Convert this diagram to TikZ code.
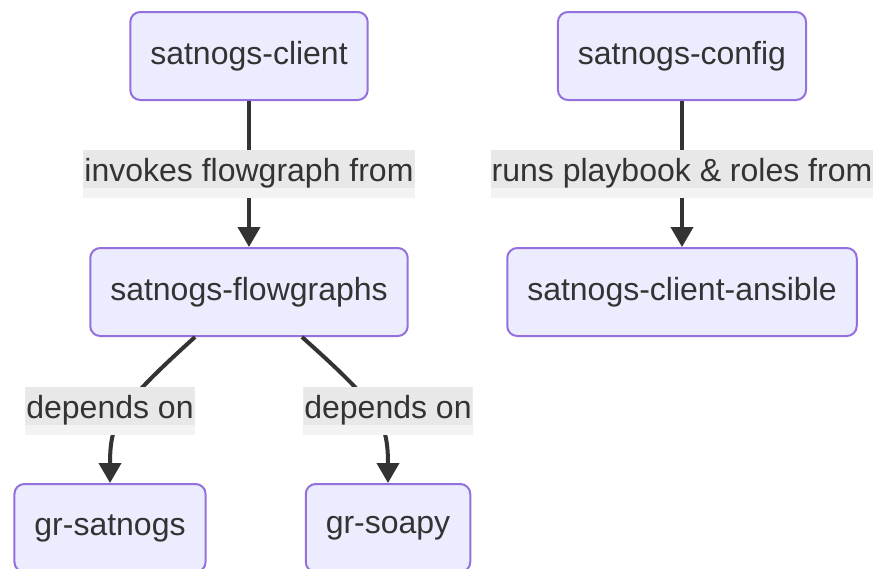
\documentclass[tikz,border=0pt]{standalone}
\usepackage{fontspec}
\setmainfont{Liberation Sans}
\usepackage{tikz}
\usetikzlibrary{arrows.meta}
\definecolor{nodefill}{HTML}{ECECFF}
\definecolor{nodeline}{HTML}{9370DB}
\definecolor{ink}{HTML}{333333}
\definecolor{lbldark}{HTML}{E8E8E8}
\definecolor{lbllight}{HTML}{F3F3F3}
\tikzset{box/.style={rectangle, rounded corners=5pt, draw=nodeline, line width=1pt,
      fill=nodefill, text=ink, inner xsep=10pt, minimum height=44pt,
      font=\fontsize{16pt}{19pt}\selectfont}}
\tikzset{elabel/.style={rectangle, fill=lbllight, text=ink, anchor=north,
      inner xsep=0.5pt, inner ysep=1.75pt, text height=14pt, text depth=6.5pt,
      font=\fontsize{16pt}{19pt}\selectfont,
      path picture={\fill[lbldark] (path picture bounding box.north west)
        rectangle ([yshift=5pt]path picture bounding box.south east);}}}
\tikzset{link/.style={draw=ink, line width=2pt, -{Triangle[length=10pt,width=11pt]}}}

\begin{document}
\begin{tikzpicture}[x=0.5pt, y=-0.5pt]
		\useasboundingbox (0,0) rectangle (875,569);
		\node[box] (client) at (249,56) {satnogs-client};
		\node[box] (config) at (682,56) {satnogs-config};
		\node[box] (flowgraphs) at (249,292) {satnogs-flowgraphs};
		\node[box] (ansible) at (682,292) {satnogs-client-ansible};
		\node[box] (grsatnogs) at (110,528) {gr-satnogs};
		\node[box] (grsoapy) at (388,528) {gr-soapy};
		\draw[link] (client) -- (flowgraphs);
		\draw[link] (config) -- (ansible);
		\draw[link] ([xshift=-27pt]flowgraphs.south) .. controls (120,405) and (110,420) .. (grsatnogs.north);
		\draw[link] ([xshift=26.5pt]flowgraphs.south) .. controls (378,405) and (388,420) .. (grsoapy.north);
		\node[elabel] (invokes) at (249,150) {invokes flowgraph from};
		\node[elabel] (runs) at (682,150) {runs playbook \& roles from};
		\node[elabel] (dependsa) at (110,387) {depends on};
		\node[elabel] (dependsb) at (388,387) {depends on};
\end{tikzpicture}
\end{document}
